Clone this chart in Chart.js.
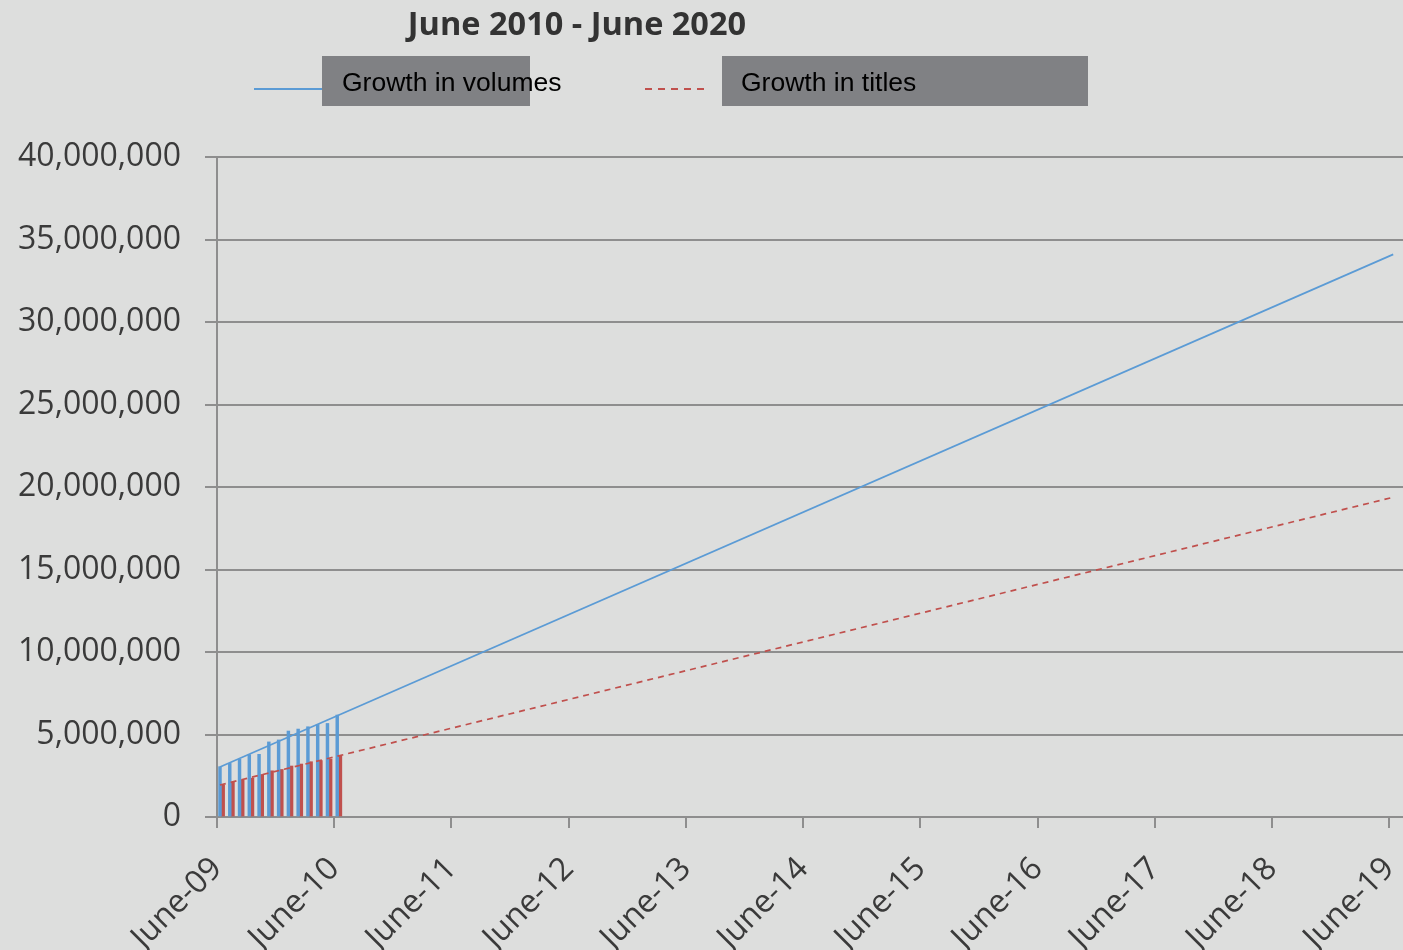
<!DOCTYPE html>
<html><head><meta charset="utf-8">
<script src="https://cdn.jsdelivr.net/npm/chart.js@4.4.1/dist/chart.umd.min.js"></script>
<style>
html,body{margin:0;padding:0;background:#dddedd;overflow:hidden}
#wrap{position:relative;width:1403px;height:950px;background:#dddedd}
#c{position:absolute;left:0;top:0}
#title{position:absolute;left:0;width:1154px;top:0px;text-align:center;font:bold 32.5px 'Open Sans';color:#333;white-space:nowrap;line-height:normal}
.box{position:absolute;top:56px;height:50px;background:#808184}
.ltxt{position:absolute;top:67px;font:26.5px 'Liberation Sans',Arial,sans-serif;color:#000;white-space:nowrap;line-height:normal}
.lline{position:absolute;height:2px;top:88px}
</style></head>
<body><div id="wrap">
<canvas id="c" width="1403" height="950"></canvas>
<div id="title">June 2010 - June 2020</div>
<div class="box" style="left:322px;width:208px"></div>
<div class="box" style="left:722px;width:366px"></div>
<div class="lline" style="left:254px;width:68px;background:#5b9bd5"></div>
<div class="lline" style="left:645px;width:64px;background:repeating-linear-gradient(90deg,#c0504d 0 7px,transparent 7px 13px)"></div>
<div class="ltxt" style="left:342px">Growth in volumes</div>
<div class="ltxt" style="left:741px">Growth in titles</div>
</div>
<script>
const tickLabels = ["June-09","June-10","June-11","June-12","June-13","June-14","June-15","June-16","June-17","June-18","June-19"];
const tickMonths = [0,12,24,36,48,60,72,84,96,108,120];
const barMonths = [0.45,1.45,2.45,3.45,4.45,5.45,6.45,7.45,8.45,9.45,10.45,11.45,12.45];
const volumes = [3050000,3250000,3500000,3780000,3800000,4550000,4670000,5210000,5330000,5470000,5610000,5670000,6180000];
const titles = [1940000,2100000,2240000,2360000,2580000,2800000,2880000,3090000,3210000,3350000,3420000,3500000,3720000];
const trendMonths = [0.3,120.4];
const volumeTrend = [3030000,34100000];
const titleTrend = [1940000,19380000];

const blue = '#5b9bd5', red = '#c0504d', gridCol = '#8e8e8e', txtCol = '#3a3a3a';
const pts = (xs, ys) => xs.map((x, i) => ({x: x, y: ys[i]}));

new Chart(document.getElementById('c'), {
  type: 'bar',
  data: {
    datasets: [
      {type:'line', label:'Growth in volumes', data: pts(trendMonths, volumeTrend), borderColor: blue, borderWidth: 1.7, pointRadius: 0, fill: false, tension: 0},
      {type:'line', label:'Growth in titles', data: pts(trendMonths, titleTrend), borderColor: red, borderWidth: 1.7, borderDash: [6,5], pointRadius: 0, fill: false, tension: 0},
      {type:'bar', label:'Volumes', data: pts(barMonths, volumes), backgroundColor: blue, borderWidth: 0, barThickness: 2.8},
      {type:'bar', label:'Titles', data: pts(barMonths, titles), backgroundColor: red, borderWidth: 0, barThickness: 3.2}
    ]
  },
  options: {
    responsive: false, animation: false, devicePixelRatio: 1,
    layout: {padding: {top: 157, left: 0, right: 0, bottom: 0}},
    plugins: {legend: {display: false}, tooltip: {enabled: false}, title: {display: false}},
    scales: {
      x: {
        type: 'linear', min: 0, max: 121.4, offset: false,
        afterBuildTicks: s => { s.ticks = tickMonths.map(v => ({value: v})); },
        afterFit: s => { s.height = 133; s.paddingLeft = 0; s.paddingRight = 0; },
        ticks: {autoSkip: false, minRotation: 45, maxRotation: 45, padding: 22,
          font: {family: 'Open Sans', size: 32}, color: txtCol,
          callback: (v, i) => tickLabels[i]},
        grid: {offset: false, drawOnChartArea: false, drawTicks: true, tickLength: 11, color: gridCol, lineWidth: 2},
        border: {display: true, color: gridCol, width: 2}
      },
      y: {
        min: 0, max: 40000000,
        afterFit: s => { s.width = 217; s.paddingTop = 0; s.paddingBottom = 0; },
        ticks: {stepSize: 5000000, padding: 24, font: {family: 'Open Sans', size: 32}, color: txtCol,
          callback: v => Number(v).toLocaleString('en-US')},
        grid: {color: gridCol, lineWidth: 2, drawTicks: true, tickLength: 12},
        border: {display: true, color: gridCol, width: 2}
      }
    }
  }
});
</script>
</body></html>
